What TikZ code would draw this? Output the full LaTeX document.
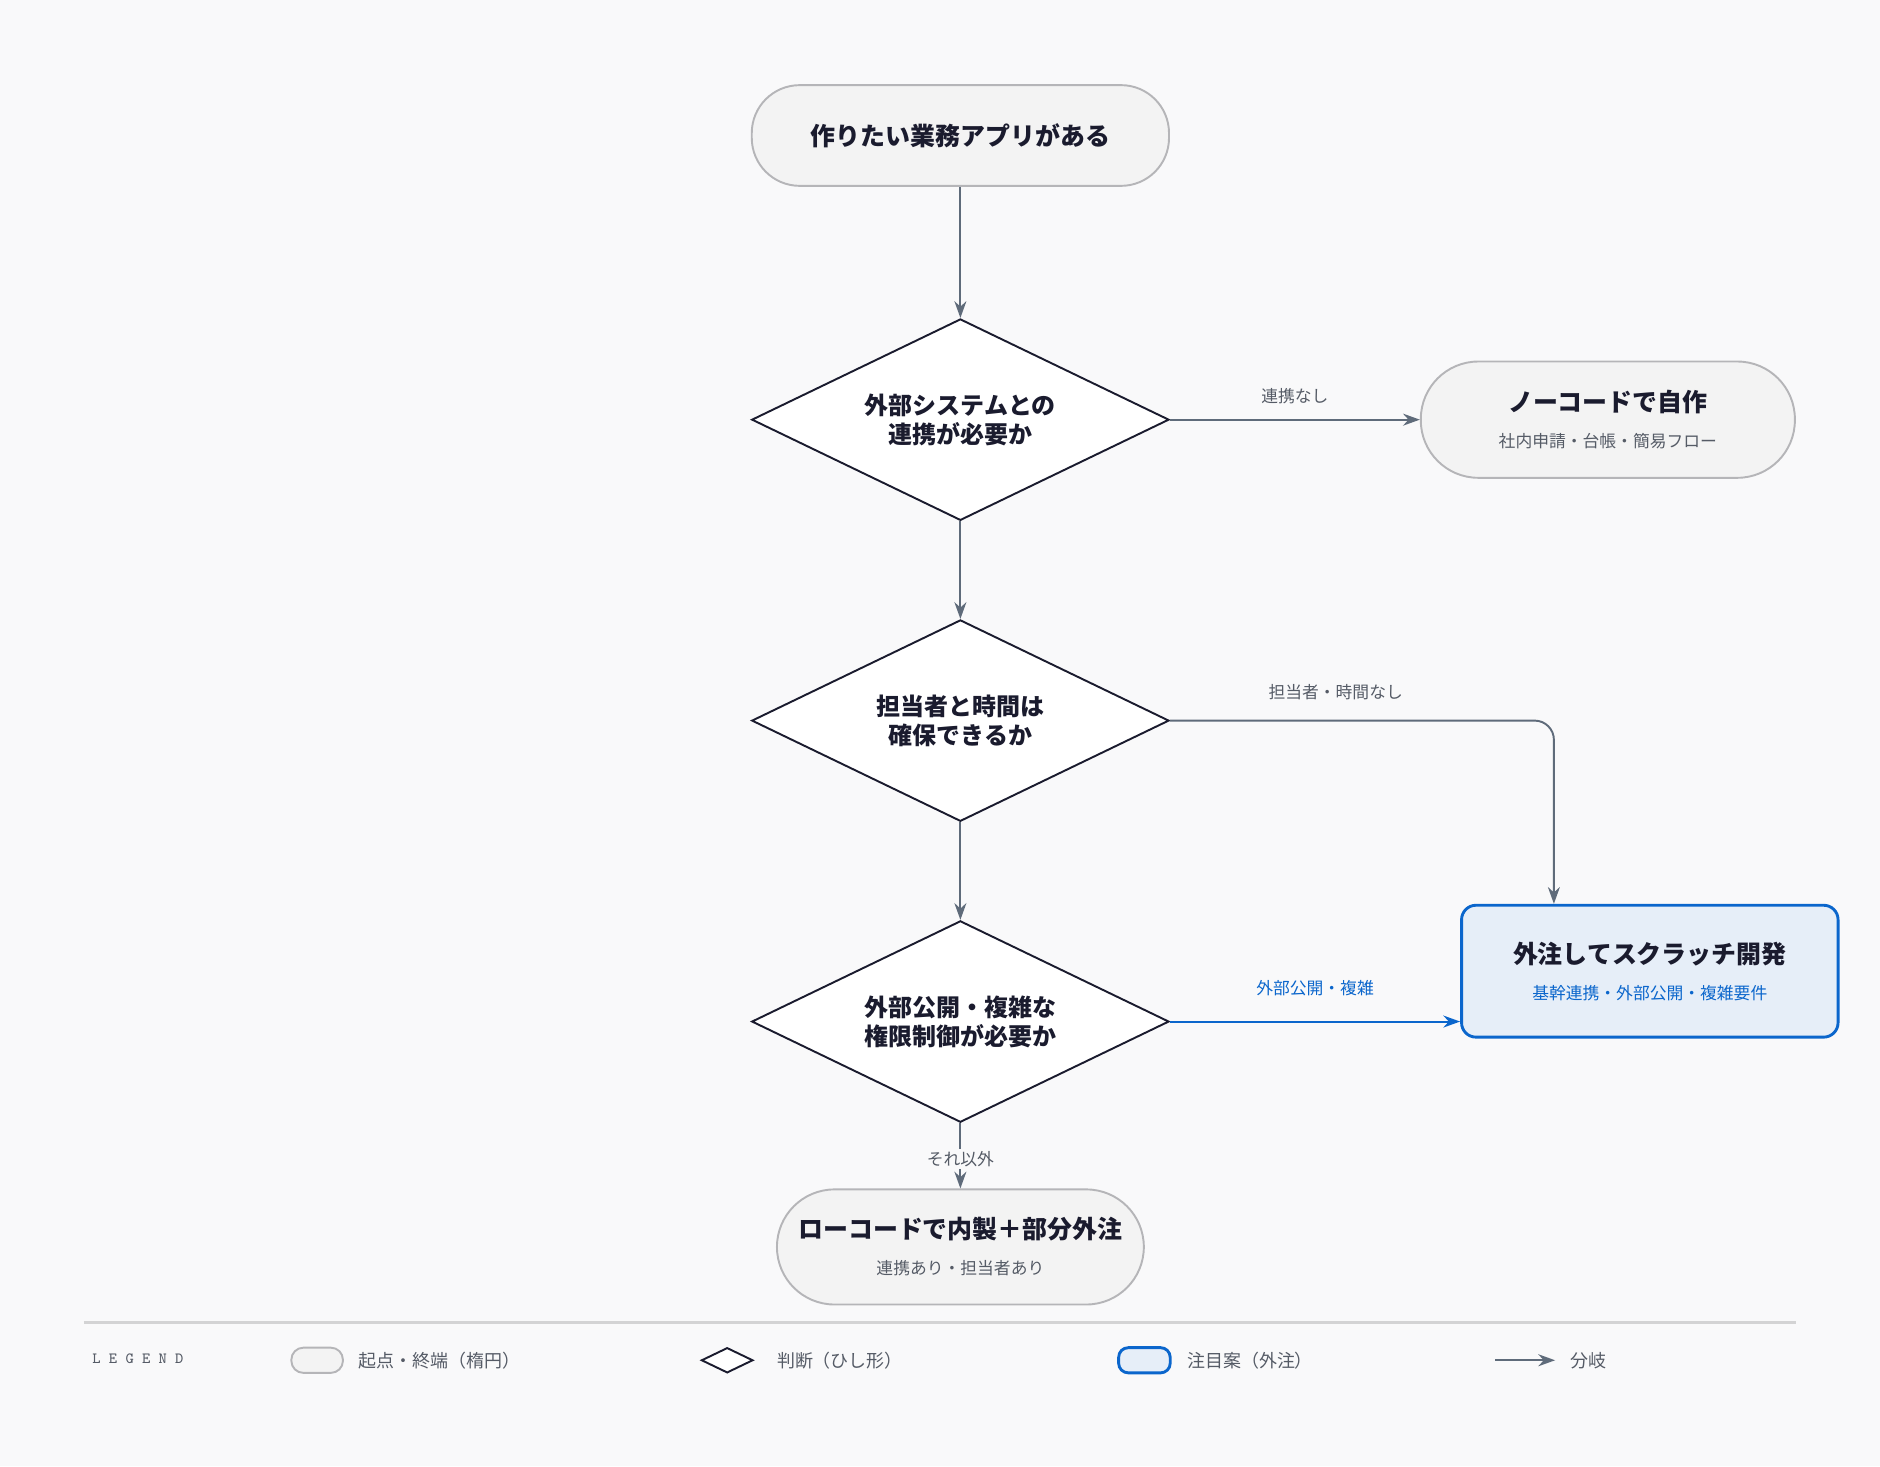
\documentclass[tikz,border=0pt]{standalone}
\usepackage{fontspec}
\setmainfont{Noto Sans CJK JP}
\usetikzlibrary{shapes.geometric,arrows.meta,positioning}
\definecolor{bgc}{HTML}{F9F9FA}
\definecolor{termfill}{HTML}{F3F3F3}
\definecolor{termline}{HTML}{B5B5B8}
\definecolor{ink}{HTML}{1A1B2E}
\definecolor{edge}{HTML}{5F6B7A}
\definecolor{accent}{HTML}{0B66CC}
\definecolor{accfill}{HTML}{E6EEF8}
\definecolor{subtxt}{HTML}{555B66}
\tikzset{>={Stealth[length=7pt,width=5pt]},
  term/.style={draw=termline,fill=termfill,line width=0.8pt,rounded corners=20pt,align=center,text=ink},
  choice/.style={diamond,draw=ink,fill=white,line width=0.8pt,inner sep=0pt,
    minimum width=174pt,minimum height=84pt,shape aspect=2.07,align=center,text=ink,font=\fontsize{10}{12}\selectfont\bfseries},
  pick/.style={draw=accent,fill=accfill,line width=1.2pt,rounded corners=6pt,align=center},
  flow/.style={->,draw=edge,line width=0.8pt},
  elabel/.style={font=\fontsize{7}{8}\selectfont,text=subtxt},
  legtxt/.style={font=\fontsize{7.5}{9}\selectfont,text=subtxt,anchor=west}}
\begin{document}
\begin{tikzpicture}[x=0.5pt,y=-0.5pt]
  \fill[bgc] (0,0) rectangle (1568,1223);
  \useasboundingbox (0,0) rectangle (1568,1223);
  % nodes
  \node[term,minimum width=174pt,minimum height=42pt,font=\fontsize{10.4}{12}\selectfont\bfseries] (start) at (801,113) {作りたい業務アプリがある};
  \node[choice] (link) at (801,350) {外部システムとの\\連携が必要か};
  \node[choice] (staff) at (801,601) {担当者と時間は\\確保できるか};
  \node[choice] (public) at (801,852) {外部公開・複雑な\\権限制御が必要か};
  \node[term,minimum width=156pt,minimum height=48.5pt,rounded corners=24pt] (nocode) at (1341,350)
    {{\fontsize{10.4}{13}\selectfont\bfseries ノーコードで自作}\\[3pt]{\fontsize{7}{8}\selectfont\color{subtxt}社内申請・台帳・簡易フロー}};
  \node[pick,minimum width=157pt,minimum height=55pt] (scratch) at (1376,810)
    {{\fontsize{10.4}{13}\selectfont\bfseries\color{ink}外注してスクラッチ開発}\\[3pt]{\fontsize{7}{8}\selectfont\color{accent}基幹連携・外部公開・複雑要件}};
  \node[term,minimum width=153pt,minimum height=48pt,rounded corners=24pt] (lowcode) at (801,1040)
    {{\fontsize{10.4}{13}\selectfont\bfseries ローコードで内製＋部分外注}\\[3pt]{\fontsize{7}{8}\selectfont\color{subtxt}連携あり・担当者あり}};
  % connectors
  \draw[flow] (start) -- (link);
  \draw[flow] (link) -- (staff);
  \draw[flow] (staff) -- (public);
  \draw[flow] (link.east) -- node[elabel,above=3pt] {連携なし} (nocode.west);
  \coordinate (bend) at (1296,601);
  \draw[flow,rounded corners=8pt] (staff.east) -- (bend) -- (scratch.north -| bend);
  \node[elabel] (lbstaff) at (1114,577) {担当者・時間なし};
  \draw[flow,draw=accent] (public.east) -- node[elabel,text=accent,above=7pt] {外部公開・複雑} (public.east -| scratch.west);
  \draw[flow] (public.south) -- node[elabel,fill=bgc,inner sep=1pt,pos=0.55] {それ以外} (lowcode.north);
  % legend
  \draw[draw=termline!60,line width=1pt] (70,1103) -- (1498,1103);
  \node[anchor=west,font=\fontsize{6.5}{8}\selectfont\ttfamily,text=subtxt] (legend) at (70,1133) {L E G E N D};
  \node[term,rounded corners=5pt,minimum width=21.5pt,minimum height=10.5pt,inner sep=0pt] (kterm) at (264.5,1134.5) {};
  \node[legtxt] (tterm) at (292,1135) {起点・終端（楕円）};
  \node[diamond,draw=ink,line width=0.8pt,fill=white,inner sep=0pt,minimum width=21.5pt,minimum height=10.5pt,shape aspect=2] (kchoice) at (606.5,1134.5) {};
  \node[legtxt] (tchoice) at (641,1135) {判断（ひし形）};
  \node[pick,rounded corners=4pt,minimum width=21.5pt,minimum height=10.5pt,inner sep=0pt] (kpick) at (954.5,1134.5) {};
  \node[legtxt] (tpick) at (983,1135) {注目案（外注）};
  \coordinate (kfrom) at (1247,1134.5);
  \coordinate (kto) at (1297,1134.5);
  \draw[flow] (kfrom) -- (kto);
  \node[legtxt] (tflow) at (1303,1135) {分岐};
\end{tikzpicture}
\end{document}
